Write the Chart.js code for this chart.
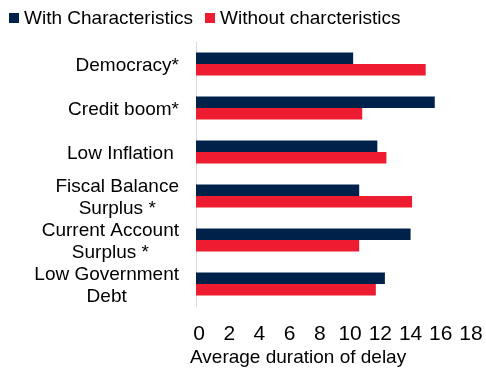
<!DOCTYPE html>
<html>
<head>
<meta charset="utf-8">
<script src="https://cdn.jsdelivr.net/npm/chart.js@4/dist/chart.umd.min.js"></script>
<style>
  html, body { margin: 0; padding: 0; background: #fff; }
  #wrap { position: relative; width: 486px; height: 369px; }
</style>
</head>
<body>
<div id="wrap"><canvas id="delayChart"></canvas></div>
<script>
// categories, one array per label (lines)
const categories = [
    ["Democracy*"],
    ["Credit boom*"],
    ["Low Inflation "],
    ["Fiscal Balance", "Surplus *"],
    ["Current Account", "Surplus *"],
    ["Low Government", "Debt"]
];
const withChars = [10.4, 15.8, 12.0, 10.8, 14.2, 12.5];
const withoutChars = [15.2, 11.0, 12.6, 14.3, 10.8, 11.9];
const xTickLabels = ["0", "2", "4", "6", "8", "10", "12", "14", "16", "18"];
const seriesNames = ["With Characteristics", "Without charcteristics"];
const axisTitle = "Average duration of delay";

const NAVY = "#00214a";
const RED = "#ed1c31";
const FONT = '"Liberation Sans", Arial, sans-serif';

// legend, category labels and axis title drawn on the canvas
const textPlugin = {
    id: "textPlugin",
    afterDraw(chart) {
        const { ctx, scales: { y } } = chart;
        ctx.save();
        ctx.fillStyle = "#000";
        ctx.font = "19px " + FONT;
        ctx.textBaseline = "alphabetic";

        // category labels: block right-aligned, lines centred within it
        const lineH = 22.5;
        categories.forEach((lines, i) => {
            const cy = y.getPixelForValue(i);
            const w = Math.max(...lines.map(l => ctx.measureText(l).width));
            const cx = 179 - w / 2;
            const first = cy - (lines.length - 1) * lineH / 2;
            ctx.textAlign = "center";
            lines.forEach((l, k) => ctx.fillText(l, cx, first + k * lineH + 6.8));
        });

        // axis title
        ctx.textAlign = "left";
        ctx.fillText(axisTitle, 190, 363);

        // legend
        const items = [{ x: 9 }, { x: 205 }];
        chart.data.datasets.forEach((ds, i) => {
            ctx.fillStyle = ds.backgroundColor;
            ctx.fillRect(items[i].x, 13, 10, 10);
            ctx.fillStyle = "#000";
            ctx.fillText(ds.label, items[i].x + 15, 23.5);
        });
        ctx.restore();
    }
};

const ctx = document.getElementById("delayChart");
new Chart(ctx, {
    type: "bar",
    data: {
        labels: categories,
        datasets: [
            { label: seriesNames[0], data: withChars, backgroundColor: NAVY },
            { label: seriesNames[1], data: withoutChars, backgroundColor: RED }
        ]
    },
    options: {
        indexAxis: "y",
        responsive: true,
        maintainAspectRatio: false,
        animation: false,
        categoryPercentage: 0.523,
        barPercentage: 1,
        layout: { padding: { top: 42, right: 18, left: 0, bottom: 0 } },
        plugins: {
            legend: { display: false },
            tooltip: { enabled: false }
        },
        scales: {
            x: {
                min: 0,
                max: 18,
                grid: { display: false },
                border: { display: false },
                ticks: {
                    stepSize: 2,
                    color: "#000",
                    font: { family: FONT, size: 21 },
                    padding: 8,
                    labelOffset: 3,
                    maxRotation: 0,
                    autoSkip: false,
                    callback: (v, i) => xTickLabels[i]
                },
                afterFit: (scale) => {
                    scale.height = 63;
                    scale.paddingLeft = 0;
                    scale.paddingRight = 0;
                }
            },
            y: {
                grid: { display: false },
                border: { color: "#d9d9d9", width: 1 },
                ticks: { display: false },
                afterFit: (scale) => { scale.width = 196; }
            }
        }
    },
    plugins: [textPlugin]
});
</script>
</body>
</html>
